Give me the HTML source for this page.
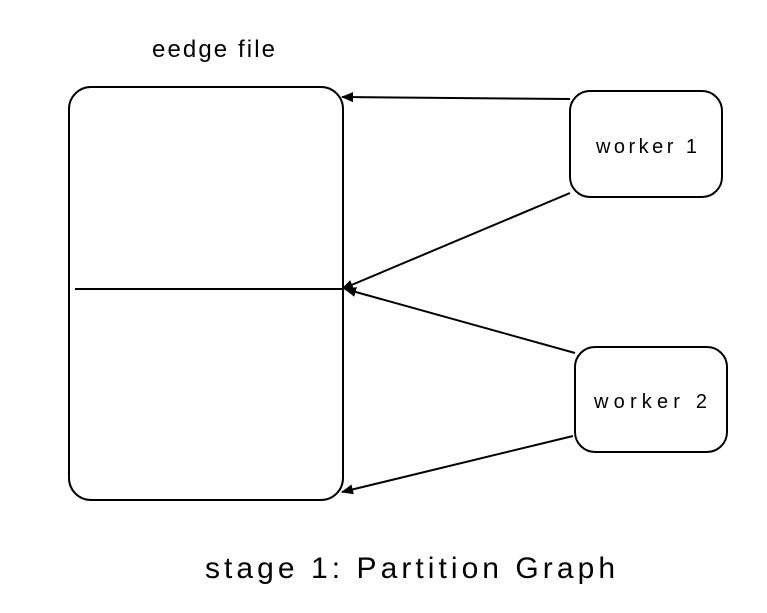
<!DOCTYPE html>
<html><head><style>
body{margin:0;background:#fff;width:767px;height:608px;overflow:hidden}
text{font-family:"Comic Sans MS","Liberation Sans",sans-serif;fill:#000}
</style></head><body>
<svg width="767" height="608" viewBox="0 0 767 608">
<defs><marker id="a" markerWidth="12" markerHeight="10" refX="11" refY="5" orient="auto" markerUnits="userSpaceOnUse"><path d="M0,0 L12,5 L0,10 Z" fill="#000"/></marker></defs>
<g fill="none" stroke="#000" stroke-width="2">
<rect x="69" y="87" width="274" height="413" rx="22"/>
<line x1="75" y1="289" x2="343" y2="289"/>
<rect x="570" y="91" width="152" height="106" rx="20"/>
<rect x="575" y="347" width="152" height="105" rx="20"/>
<line x1="570" y1="99" x2="342" y2="97" marker-end="url(#a)"/>
<line x1="570" y1="193" x2="342" y2="289" marker-end="url(#a)"/>
<line x1="575" y1="353" x2="345" y2="289" marker-end="url(#a)"/>
<line x1="573" y1="436" x2="342" y2="492" marker-end="url(#a)"/>
</g>
<text x="152" y="57" font-size="24" textLength="123" lengthAdjust="spacing">eedge file</text>
<text x="596" y="153" font-size="20" textLength="101" lengthAdjust="spacing">worker 1</text>
<text x="594" y="408" font-size="20" textLength="113" lengthAdjust="spacing">worker 2</text>
<text x="205" y="578" font-size="30" textLength="410" lengthAdjust="spacing">stage 1: Partition Graph</text>
</svg>
</body></html>
